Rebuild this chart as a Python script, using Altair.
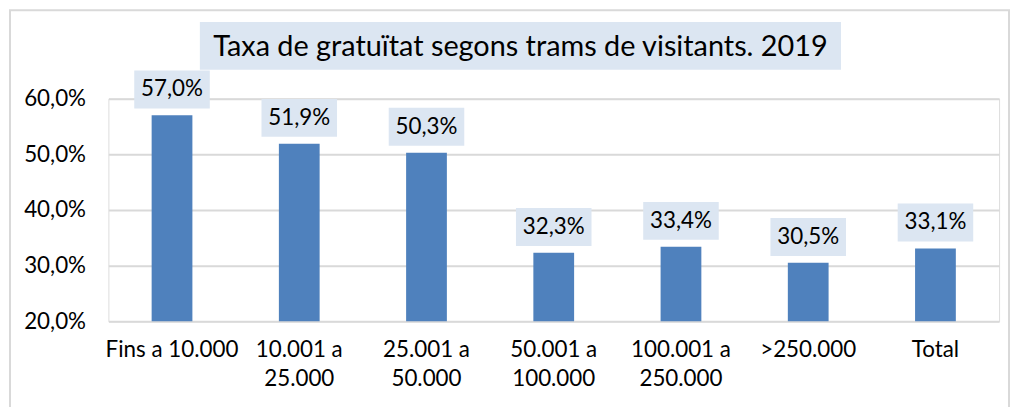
import altair as alt
import pandas as pd

categories = ["Fins a 10.000", "10.001 a\n25.000", "25.001 a\n50.000", "50.001 a\n100.000",
              "100.001 a\n250.000", ">250.000", "Total"]
values = [57.0, 51.9, 50.3, 32.3, 33.4, 30.5, 33.1]
title_text = "Taxa de gratuïtat segons trams de visitants. 2019"
y_ticks = [20, 30, 40, 50, 60]

df = pd.DataFrame({"cat": categories, "v": values})

FONT = "Lato"
BAR = "#4f81bd"
BOX = "#dce6f2"
FS = 22.5

x_enc = alt.X("cat:N", sort=None, title=None,
              scale=alt.Scale(paddingInner=0.68, paddingOuter=0.34),
              axis=alt.Axis(labelAngle=0, labelExpr="split(datum.label, '\\n')",
                            labelFontSize=FS, labelFont=FONT, labelColor="#000000",
                            labelLineHeight=30, labelPadding=17, ticks=False,
                            domain=False, grid=False, labelLimit=200))
y_scale = alt.Scale(domain=[20, 60], nice=False, zero=False)

base = alt.Chart(df)

frame = base.mark_rect(fill="transparent", stroke="#d9d9d9", strokeWidth=2).encode(
    x=alt.value(-99), x2=alt.value(906), y=alt.value(-89), y2=alt.value(330)
).transform_filter("datum.cat == 'Total'")

bars = base.mark_bar(color=BAR, width=41).encode(
    x=x_enc,
    y=alt.Y("v:Q", scale=y_scale, title=None,
            axis=alt.Axis(values=y_ticks, labelExpr="replace(format(datum.value, '.1f'), '.', ',') + '%'",
                          labelFontSize=FS, labelFont=FONT, labelColor="#000000",
                          labelPadding=23, ticks=False, domain=False,
                          gridColor="#d9d9d9", gridWidth=2)),
    y2=alt.Y2(datum=20),
)

boxes = base.transform_calculate(
    lo="datum.v + 1.25", hi="datum.v + 8.05"
).mark_bar(color=BOX, width=76).encode(
    x=x_enc, y=alt.Y("lo:Q", scale=y_scale), y2="hi:Q"
)

labels = base.transform_calculate(
    mid="datum.v + 4.65",
    txt="replace(format(datum.v, '.1f'), '.', ',') + '%'"
).mark_text(font=FONT, fontSize=FS, color="#000000", baseline="middle").encode(
    x=x_enc, y=alt.Y("mid:Q", scale=y_scale), text="txt:N"
)

title_box = base.mark_rect(fill=BOX).encode(
    x=alt.value(92), x2=alt.value(737), y=alt.value(-77), y2=alt.value(-29)
).transform_filter("datum.cat == 'Total'")

title_txt = base.mark_text(font=FONT, fontSize=29, color="#000000", baseline="alphabetic",
                           align="center").encode(
    x=alt.value(414.5), y=alt.value(-43), text=alt.value(title_text)
).transform_filter("datum.cat == 'Total'")

chart = alt.layer(frame, bars, boxes, labels, title_box, title_txt).properties(
    width=896, height=224,
    padding={"left": 101, "top": 90, "right": 12, "bottom": 85},
    autosize=alt.AutoSizeParams(type="none"),
).configure_view(stroke=None).configure(background="white")

chart.save("out.html", embed_options={"renderer": "svg", "actions": False})
